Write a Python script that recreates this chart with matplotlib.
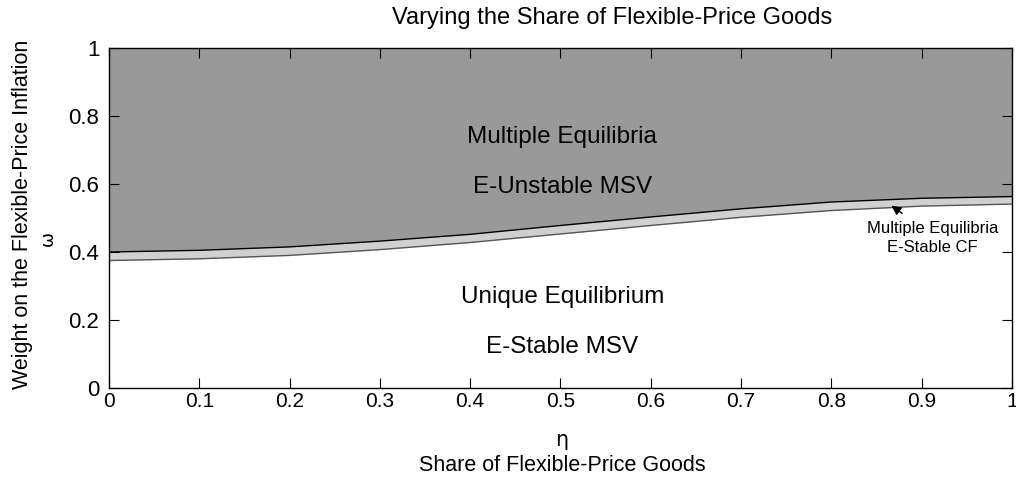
import matplotlib.pyplot as plt
import numpy as np

plt.rcParams['font.family'] = ['Liberation Sans', 'DejaVu Sans']

# share of flexible-price goods (eta) and the two boundaries (omega)
eta = [0.0, 0.1, 0.2, 0.3, 0.4, 0.5, 0.6, 0.7, 0.8, 0.9, 1.0]
omega_upper = [0.400, 0.405, 0.415, 0.432, 0.452, 0.478, 0.503, 0.527, 0.547, 0.558, 0.563]
omega_lower = [0.375, 0.380, 0.390, 0.407, 0.428, 0.453, 0.478, 0.502, 0.522, 0.535, 0.541]

fig = plt.figure(figsize=(10.16, 4.83), dpi=100)
ax = fig.add_axes([0.1073, 0.1967, 0.8887, 0.7039])

eta = np.array(eta)
# regions
ax.fill_between(eta, omega_upper, 1, color='#999999', lw=0)
ax.fill_between(eta, omega_lower, omega_upper, color='#d0d0d0', lw=0)
ax.plot(eta, omega_upper, color='black', lw=1)
ax.plot(eta, omega_lower, color='#555555', lw=1)

ax.set_xlim(0, 1)
ax.set_ylim(0, 1)
ax.set_xticks(np.arange(0, 1.01, 0.1))
ax.set_xticklabels(['0', '0.1', '0.2', '0.3', '0.4', '0.5', '0.6', '0.7', '0.8', '0.9', '1'])
ax.set_yticks([0, 0.2, 0.4, 0.6, 0.8, 1])
ax.set_yticklabels(['0', '0.2', '0.4', '0.6', '0.8', '1'])
ax.tick_params(direction='in', length=7, labelsize=15, top=True, right=True, pad=3)
ax.tick_params(axis='y', labelsize=16, pad=7)
for s in ax.spines.values():
    s.set_linewidth(1)

fig.text(0.602, 0.962, 'Varying the Share of Flexible-Price Goods', ha='center',
         va='center', fontsize=17)

# labels in the regions
ax.text(0.502, 0.738, 'Multiple Equilibria', ha='center', va='center', fontsize=17.5)
ax.text(0.502, 0.59, 'E-Unstable MSV', ha='center', va='center', fontsize=17.5)
ax.text(0.502, 0.268, 'Unique Equilibrium', ha='center', va='center', fontsize=17.5)
ax.text(0.502, 0.12, 'E-Stable MSV', ha='center', va='center', fontsize=17.5)
ax.annotate('', xy=(0.864, 0.541), xytext=(0.881, 0.509),
            arrowprops=dict(arrowstyle='-|>', color='black', lw=1, mutation_scale=14))
ax.text(0.912, 0.468, 'Multiple Equilibria', ha='center', va='center', fontsize=12)
ax.text(0.912, 0.412, 'E-Stable CF', ha='center', va='center', fontsize=12)

# axis labels
fig.text(0.022, 0.557, 'Weight on the Flexible-Price Inflation', rotation=90,
         ha='center', va='center', fontsize=15.5)
fig.text(0.047, 0.507, 'ω', rotation=90, ha='center', va='center', fontsize=13,
         family=['DejaVu Sans'])
fig.text(0.553, 0.088, 'η', ha='center', va='center', fontsize=15, family=['DejaVu Sans'])
fig.text(0.553, 0.037, 'Share of Flexible-Price Goods', ha='center', va='center', fontsize=15.5)

fig.savefig('out.png', dpi=100)
